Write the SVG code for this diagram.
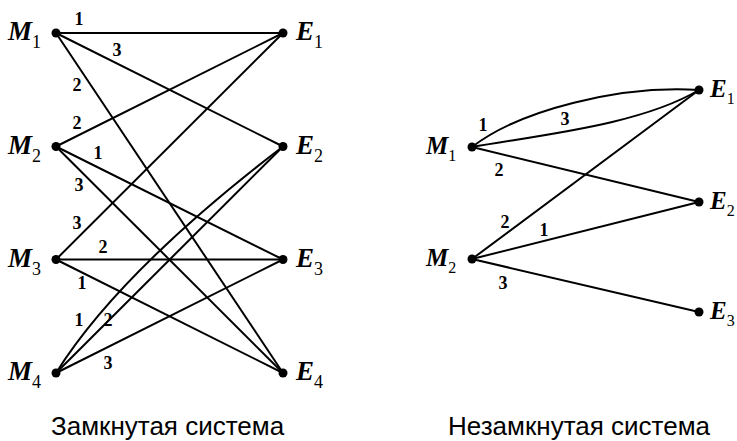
<svg xmlns="http://www.w3.org/2000/svg" width="737" height="441" viewBox="0 0 737 441">
<style>
.e{fill:none;stroke:#000;stroke-width:2}
.d{fill:#000}
.n{font-family:"Liberation Serif","Times New Roman",serif;font-weight:bold;font-style:italic;font-size:27px;fill:#000}
.r{font-size:25px}
.s{font-family:"Liberation Serif","Times New Roman",serif;font-weight:normal;font-style:normal;font-size:18px;fill:#000}
.t{font-size:16px}
.w{font-family:"Liberation Serif","Times New Roman",serif;font-weight:bold;font-size:18px;fill:#000;text-anchor:middle}
.c{font-family:"Liberation Sans",Arial,sans-serif;font-size:26px;fill:#000}
</style>
<rect width="737" height="441" fill="#fff"/>
<g id="connectors">
<line class="e" x1="56" y1="33" x2="283" y2="33"/>
<line class="e" x1="56" y1="33" x2="283" y2="146.5"/>
<line class="e" x1="56" y1="33" x2="283" y2="373"/>
<line class="e" x1="56" y1="146.5" x2="283" y2="33"/>
<line class="e" x1="56" y1="146.5" x2="283" y2="259.5"/>
<line class="e" x1="56" y1="146.5" x2="283" y2="373"/>
<line class="e" x1="56" y1="259.5" x2="283" y2="33"/>
<line class="e" x1="56" y1="259.5" x2="283" y2="259.5"/>
<line class="e" x1="56" y1="259.5" x2="283" y2="373"/>
<path class="e" d="M56 373 Q119 272 283 146.5"/>
<line class="e" x1="56" y1="373" x2="283" y2="146.5"/>
<line class="e" x1="56" y1="373" x2="283" y2="259.5"/>
<path class="e" d="M472 147 C520 110 620 85 699 90"/>
<path class="e" d="M472 147 C540 135 640 125 699 90"/>
<line class="e" x1="472" y1="147" x2="699" y2="202"/>
<line class="e" x1="472" y1="259" x2="699" y2="90"/>
<line class="e" x1="472" y1="259" x2="699" y2="202"/>
<line class="e" x1="472" y1="259" x2="699" y2="312"/>
</g>
<g id="edge-labels">
<text class="w" x="79" y="25">1</text>
<text class="w" x="117" y="56">3</text>
<text class="w" x="77" y="91">2</text>
<text class="w" x="77" y="129">2</text>
<text class="w" x="98" y="159">1</text>
<text class="w" x="79" y="191">3</text>
<text class="w" x="77" y="229">3</text>
<text class="w" x="103" y="253">2</text>
<text class="w" x="82" y="289">1</text>
<text class="w" x="79" y="326">1</text>
<text class="w" x="108" y="326">2</text>
<text class="w" x="108" y="369">3</text>
<text class="w" x="483" y="131">1</text>
<text class="w" x="565" y="125">3</text>
<text class="w" x="499" y="176">2</text>
<text class="w" x="505" y="228">2</text>
<text class="w" x="544" y="236">1</text>
<text class="w" x="503" y="289">3</text>
</g>
<g id="L-M1"><circle class="d" cx="56" cy="33" r="4.5"/><text class="n" x="8" y="40">M<tspan class="s" dy="8">1</tspan></text></g>
<g id="L-M2"><circle class="d" cx="56" cy="146.5" r="4.5"/><text class="n" x="8" y="153.5">M<tspan class="s" dy="8">2</tspan></text></g>
<g id="L-M3"><circle class="d" cx="56" cy="259.5" r="4.5"/><text class="n" x="8" y="266.5">M<tspan class="s" dy="8">3</tspan></text></g>
<g id="L-M4"><circle class="d" cx="56" cy="373" r="4.5"/><text class="n" x="8" y="380">M<tspan class="s" dy="8">4</tspan></text></g>
<g id="L-E1"><circle class="d" cx="283" cy="33" r="4.5"/><text class="n" x="296" y="40">E<tspan class="s" dy="8">1</tspan></text></g>
<g id="L-E2"><circle class="d" cx="283" cy="146.5" r="4.5"/><text class="n" x="296" y="153.5">E<tspan class="s" dy="8">2</tspan></text></g>
<g id="L-E3"><circle class="d" cx="283" cy="259.5" r="4.5"/><text class="n" x="296" y="266.5">E<tspan class="s" dy="8">3</tspan></text></g>
<g id="L-E4"><circle class="d" cx="283" cy="373" r="4.5"/><text class="n" x="296" y="380">E<tspan class="s" dy="8">4</tspan></text></g>
<g id="R-M1"><circle class="d" cx="472" cy="147" r="4.5"/><text class="n r" x="426" y="154">M<tspan class="s t" dy="7">1</tspan></text></g>
<g id="R-M2"><circle class="d" cx="472" cy="259" r="4.5"/><text class="n r" x="426" y="266">M<tspan class="s t" dy="7">2</tspan></text></g>
<g id="R-E1"><circle class="d" cx="699" cy="90" r="4.5"/><text class="n r" x="710" y="97">E<tspan class="s t" dy="7">1</tspan></text></g>
<g id="R-E2"><circle class="d" cx="699" cy="202" r="4.5"/><text class="n r" x="710" y="209">E<tspan class="s t" dy="7">2</tspan></text></g>
<g id="R-E3"><circle class="d" cx="699" cy="312" r="4.5"/><text class="n r" x="710" y="319">E<tspan class="s t" dy="7">3</tspan></text></g>
<g id="captions">
<text class="c" x="51" y="435">Замкнутая система</text>
<text class="c" x="448" y="435">Незамкнутая система</text>
</g>
</svg>
